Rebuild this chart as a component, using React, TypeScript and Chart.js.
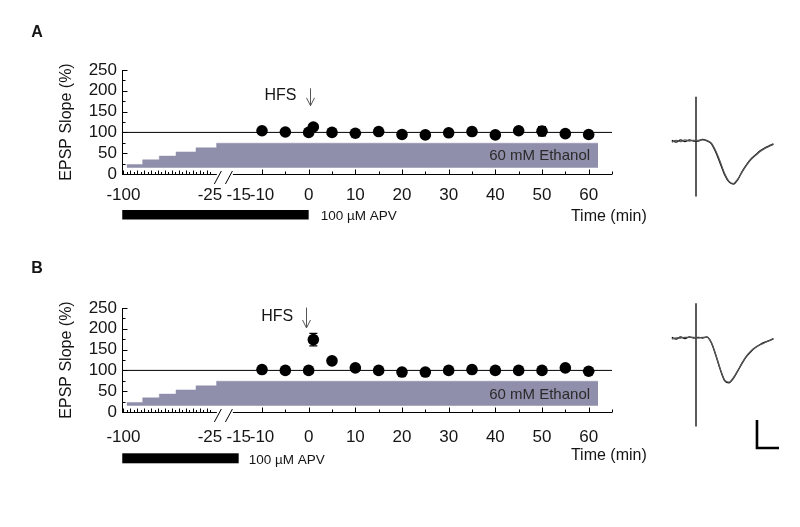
import React, { useEffect, useRef } from "react";
import { Chart, registerables } from "chart.js";

Chart.register(...registerables);

const FONT = '"Liberation Sans", Arial, Helvetica, sans-serif';
const TEXT = "#151515";
const ETHANOL_FILL = "#8f8fab";

// ---------------- data: EPSP slope time course ----------------
const sampleTimes = [-10, -5, 0, 1, 5, 10, 15, 20, 25, 30, 35, 40, 45, 50, 55, 60];
const slopeA = [104, 101, 100, 113, 100, 98, 102, 95, 94, 99, 102, 94, 104, 103, 97, 95];
const semA = [4, 3, 3, 5, 3, 3, 3, 3, 3, 3, 3, 3, 4, 11, 3, 3];
const slopeB = [102, 100, 100, 174, 123, 106, 100, 96, 96, 100, 102, 100, 100, 100, 106, 98];
const semB = [4, 3, 3, 15, 5, 4, 3, 3, 3, 3, 3, 3, 3, 3, 4, 3];

// ethanol ramp (staircase) drawn as a grey band
const ethanolStepTimes = [-97.2, -83.3, -68.9, -54.4, -37.1, -22.7, 62];
const ethanolStepLevels = [23, 34, 43, 53, 63, 74, 74];
const ethanolBaseLevel = 15;
const baselineLevel = 100;

// drug / stimulation timing (min)
const apvA = [-101, 0];
const apvB = [-101, -15];
const hfsTimeA = 0.3;
const hfsTimeB = -0.5;

// axis ticks
const xTickLabels = [-100, -25, -15, -10, 0, 10, 20, 30, 40, 50, 60];
const xMajorTicks = [-10, 0, 10, 20, 30, 40, 50, 60];
const xMinorTicks = [-5, 5, 15, 25, 35, 45, 55, 65];
const xPreBreakTicks = [
  -100, -97, -94, -91, -88, -85, -82, -79, -76, -73, -70, -67, -64,
  -61, -58, -55, -52, -49, -46, -43, -40, -37, -34, -31, -28, -25,
];
const yMajorTicks = [0, 50, 100, 150, 200, 250];
const yMinorTicks = [25, 75, 125, 175, 225];

// ---------------- data: representative fEPSP traces (ms, mV) ----------------
const traceTimes = [
  -5.5, -4.5, -3.5, -2.5, -1.5, -0.5, 0.5, 1.5, 2.5, 3.5, 4.5, 5.5,
  6.5, 7.5, 8.5, 9.5, 10.5, 11.5, 12.5, 13.5, 14.5, 15.5, 16.5, 17.6,
];
const traceA1 = [
  -0.02, 0.01, -0.01, 0.02, 0.0, 0.01, 0.01, 0.02, 0.01, -0.04, -0.18, -0.37,
  -0.58, -0.72, -0.76, -0.68, -0.55, -0.43, -0.33, -0.26, -0.19, -0.14, -0.1, -0.06,
];
const traceA2 = [
  0.01, -0.02, 0.02, -0.01, 0.02, 0.0, 0.0, 0.03, 0.0, -0.05, -0.2, -0.4,
  -0.6, -0.73, -0.77, -0.69, -0.54, -0.42, -0.32, -0.25, -0.18, -0.13, -0.09, -0.05,
];
const traceB1 = [
  -0.02, 0.0, 0.0, 0.01, 0.01, 0.01, 0.0, 0.01, 0.01, -0.08, -0.3, -0.55,
  -0.75, -0.79, -0.71, -0.58, -0.44, -0.32, -0.23, -0.17, -0.125, -0.09, -0.05, -0.02,
];
const traceB2 = [
  0.01, -0.02, 0.02, -0.01, 0.02, 0.0, 0.01, 0.0, 0.02, -0.09, -0.31, -0.56,
  -0.76, -0.8, -0.72, -0.59, -0.45, -0.33, -0.24, -0.17, -0.12, -0.08, -0.05, -0.01,
];
const artifactA = [0.79, -0.99];
const artifactB = [0.62, -1.58];
const scaleBarMs = 5;
const scaleBarMv = 0.5;

// ---------------- broken time axis ----------------
const BREAK_FROM = -25;
const BREAK_TO = -15;
const AXIS_AT_BREAK_FROM = -21.15;
const PRE_BREAK_RATE = 0.2473;
const X_AXIS_MIN = -40;
const X_AXIS_MAX = 65;
const axisGap = [-22.6, -17];

function toAxis(t: number): number {
  if (t >= BREAK_TO) return t;
  if (t <= BREAK_FROM) return AXIS_AT_BREAK_FROM + (t - BREAK_FROM) * PRE_BREAK_RATE;
  return (
    AXIS_AT_BREAK_FROM +
    ((t - BREAK_FROM) / (BREAK_TO - BREAK_FROM)) * (BREAK_TO - AXIS_AT_BREAK_FROM)
  );
}

type PanelLayout = {
  label: string;
  top: number;
  labelY: number;
  tickPad: number;
  hfsTextRight: number;
  hfsTextValue: number;
  arrowFrom: number;
  arrowTo: number;
  apvBarDy: number;
  apvBarH: number;
  apvTextGap: number;
  apvTextDy: number;
  timeTextDy: number;
  ethanolTextDy: number;
};

const layoutA: PanelLayout = {
  label: "A", top: 0, labelY: 33, tickPad: 11,
  hfsTextRight: -2.6, hfsTextValue: 188, arrowFrom: 206, arrowTo: 164,
  apvBarDy: 36, apvBarH: 9.5, apvTextGap: 12, apvTextDy: 42.7,
  timeTextDy: 42.7, ethanolTextDy: -18,
};
const layoutB: PanelLayout = {
  label: "B", top: 238, labelY: 31, tickPad: 15,
  hfsTextRight: -3.3, hfsTextValue: 229, arrowFrom: 251, arrowTo: 202,
  apvBarDy: 41.3, apvBarH: 10, apvTextGap: 10, apvTextDy: 48,
  timeTextDy: 43.7, ethanolTextDy: -17,
};

type PanelData = {
  values: number[];
  sem: number[];
  apv: number[];
  hfs: number;
};

function decorPlugin(d: PanelData, L: PanelLayout) {
  return {
    id: "decor" + L.label,
    afterDatasetsDraw(chart: any) {
      const { ctx, scales } = chart;
      const x = scales.x;
      const y = scales.y;
      ctx.save();
      ctx.strokeStyle = "#000";
      ctx.lineWidth = 1.4;
      sampleTimes.forEach((t, i) => {
        const px = x.getPixelForValue(toAxis(t));
        const hi = y.getPixelForValue(d.values[i] + d.sem[i]);
        const lo = y.getPixelForValue(d.values[i] - d.sem[i]);
        ctx.beginPath();
        ctx.moveTo(px, hi);
        ctx.lineTo(px, lo);
        ctx.moveTo(px - 4, hi);
        ctx.lineTo(px + 4, hi);
        ctx.moveTo(px - 4, lo);
        ctx.lineTo(px + 4, lo);
        ctx.stroke();
      });
      ctx.restore();
    },
    afterDraw(chart: any) {
      const { ctx, chartArea, scales } = chart;
      const x = scales.x;
      const y = scales.y;
      const X = (t: number) => x.getPixelForValue(toAxis(t));
      const Y = (v: number) => y.getPixelForValue(v);
      const y0 = Math.round(Y(0)) + 0.5;
      ctx.save();
      ctx.strokeStyle = "#000";
      ctx.lineWidth = 1;
      // x axis line with a break
      ctx.beginPath();
      ctx.moveTo(chartArea.left, y0);
      ctx.lineTo(X(axisGap[0]), y0);
      ctx.moveTo(X(axisGap[1]), y0);
      ctx.lineTo(chartArea.right, y0);
      ctx.stroke();
      // inward x ticks
      const tick = (t: number, len: number) => {
        const px = Math.round(X(t)) + 0.5;
        ctx.moveTo(px, y0);
        ctx.lineTo(px, y0 - len);
      };
      ctx.beginPath();
      xMajorTicks.forEach((t) => tick(t, 5));
      xMinorTicks.forEach((t) => tick(t, 3));
      xPreBreakTicks.forEach((t, i) => tick(t, i % 2 === 0 ? 4 : 2.5));
      ctx.stroke();
      // inward y ticks
      const xl = Math.round(chartArea.left) + 0.5;
      ctx.beginPath();
      yMajorTicks.forEach((v) => {
        const py = Math.round(Y(v)) + 0.5;
        ctx.moveTo(xl, py);
        ctx.lineTo(xl + 5, py);
      });
      yMinorTicks.forEach((v) => {
        const py = Math.round(Y(v)) + 0.5;
        ctx.moveTo(xl, py);
        ctx.lineTo(xl + 3, py);
      });
      ctx.stroke();
      // break marks
      const g0 = X(axisGap[0]);
      const g1 = X(axisGap[1]);
      ctx.beginPath();
      [g0 + 1, g1 - 4].forEach((cx) => {
        ctx.moveTo(cx - 3.5, y0 + 9.5);
        ctx.lineTo(cx + 3.5, y0 - 3.5);
      });
      ctx.stroke();
      // HFS arrow
      const ax = Math.round(X(d.hfs)) + 0.5;
      const tipY = Y(L.arrowTo);
      ctx.strokeStyle = "#555";
      ctx.beginPath();
      ctx.moveTo(ax, Y(L.arrowFrom));
      ctx.lineTo(ax, tipY);
      ctx.moveTo(ax - 4, tipY - 8);
      ctx.lineTo(ax, tipY);
      ctx.lineTo(ax + 4, tipY - 8);
      ctx.stroke();
      // texts
      ctx.fillStyle = TEXT;
      ctx.textBaseline = "middle";
      ctx.font = `16px ${FONT}`;
      ctx.textAlign = "right";
      ctx.fillText("HFS", X(L.hfsTextRight), Y(L.hfsTextValue));
      ctx.font = `15px ${FONT}`;
      ctx.fillStyle = "#2a2a2a";
      ctx.fillText("60 mM Ethanol", X(60.3), chartArea.bottom + L.ethanolTextDy);
      ctx.fillStyle = TEXT;
      ctx.font = `16px ${FONT}`;
      ctx.textAlign = "left";
      ctx.fillText("Time (min)", X(56.2), chartArea.bottom + L.timeTextDy);
      // APV bar
      ctx.fillStyle = "#000";
      const bx0 = X(d.apv[0]);
      const bx1 = X(d.apv[1]);
      ctx.fillRect(bx0, chartArea.bottom + L.apvBarDy, bx1 - bx0, L.apvBarH);
      ctx.fillStyle = TEXT;
      ctx.font = `13.5px ${FONT}`;
      ctx.fillText("100 µM APV", bx1 + L.apvTextGap, chartArea.bottom + L.apvTextDy);
      // panel label
      ctx.font = `bold 16px ${FONT}`;
      ctx.textAlign = "center";
      ctx.fillText(L.label, 37, L.labelY);
      ctx.restore();
    },
  };
}

function mainConfig(d: PanelData, L: PanelLayout): any {
  const points = sampleTimes.map((t, i) => ({ x: toAxis(t), y: d.values[i] }));
  const steps = ethanolStepTimes.map((t, i) => ({ x: toAxis(t), y: ethanolStepLevels[i] }));
  return {
    type: "scatter",
    data: {
      datasets: [
        {
          type: "line",
          data: steps,
          stepped: "before",
          fill: { value: ethanolBaseLevel },
          backgroundColor: ETHANOL_FILL,
          borderColor: ETHANOL_FILL,
          borderWidth: 0.5,
          pointRadius: 0,
          order: 3,
        },
        {
          type: "line",
          data: [
            { x: X_AXIS_MIN, y: baselineLevel },
            { x: X_AXIS_MAX, y: baselineLevel },
          ],
          borderColor: "#000",
          borderWidth: 1,
          pointRadius: 0,
          fill: false,
          order: 2,
        },
        {
          type: "scatter",
          data: points,
          pointRadius: 5.8,
          pointHoverRadius: 5.8,
          backgroundColor: "#000",
          borderColor: "#000",
          borderWidth: 0,
          order: 1,
        },
      ],
    },
    options: {
      animation: false,
      responsive: false,
      devicePixelRatio: 1,
      events: [],
      layout: { padding: { left: 0, right: 48, top: 70, bottom: 6 } },
      plugins: { legend: { display: false }, tooltip: { enabled: false } },
      scales: {
        x: {
          type: "linear",
          min: X_AXIS_MIN,
          max: X_AXIS_MAX,
          afterBuildTicks: (s: any) => {
            s.ticks = xTickLabels.map((t) => ({ value: toAxis(t) }));
          },
          ticks: {
            autoSkip: false,
            maxRotation: 0,
            padding: L.tickPad,
            color: TEXT,
            font: { family: FONT, size: 17 },
            callback: (_v: any, i: number) => String(xTickLabels[i]),
          },
          grid: { display: false, drawTicks: false },
          border: { display: false },
          afterFit: (s: any) => {
            s.height = 60;
          },
        },
        y: {
          min: 0,
          max: 250,
          afterBuildTicks: (s: any) => {
            s.ticks = yMajorTicks.map((v) => ({ value: v }));
          },
          ticks: {
            autoSkip: false,
            padding: 5,
            color: TEXT,
            font: { family: FONT, size: 17 },
          },
          grid: { display: false, drawTicks: false },
          border: { display: true, color: "#000", width: 1 },
          title: {
            display: true,
            text: "EPSP Slope (%)",
            color: TEXT,
            font: { family: FONT, size: 16 },
            padding: { top: 57, bottom: 0 },
          },
          afterFit: (s: any) => {
            s.width = 122;
          },
        },
      },
    },
    plugins: [decorPlugin(d, L)],
  };
}

type TraceSpec = {
  traces: number[][];
  artifact: number[];
  yMin: number;
  yMax: number;
  scaleBar?: { x: number; y: number };
};

const TRACE_X_MIN = -8.182;
const TRACE_X_MAX = 21.364;

function traceConfig(spec: TraceSpec): any {
  const colors = ["#555", "#111"];
  const datasets: any[] = spec.traces.map((vals, k) => ({
    type: "line",
    data: traceTimes.map((t, i) => ({ x: t, y: vals[i] })),
    borderColor: colors[k],
    borderWidth: 1.3,
    pointRadius: 0,
    cubicInterpolationMode: "monotone",
    fill: false,
  }));
  datasets.push({
    type: "line",
    data: [
      { x: 0, y: spec.artifact[0] },
      { x: 0, y: spec.artifact[1] },
    ],
    borderColor: "#333",
    borderWidth: 1.6,
    pointRadius: 0,
    fill: false,
  });
  if (spec.scaleBar) {
    const sb = spec.scaleBar;
    datasets.push({
      type: "line",
      data: [
        { x: sb.x, y: sb.y + scaleBarMv },
        { x: sb.x, y: sb.y },
        { x: sb.x + scaleBarMs, y: sb.y },
      ],
      borderColor: "#000",
      borderWidth: 2.6,
      pointRadius: 0,
      fill: false,
    });
  }
  return {
    type: "line",
    data: { datasets },
    options: {
      animation: false,
      responsive: false,
      devicePixelRatio: 1,
      events: [],
      layout: { padding: 0 },
      plugins: { legend: { display: false }, tooltip: { enabled: false } },
      scales: {
        x: { type: "linear", min: TRACE_X_MIN, max: TRACE_X_MAX, display: false },
        y: { type: "linear", min: spec.yMin, max: spec.yMax, display: false },
      },
    },
  };
}

function ChartCanvas(props: {
  config: () => any;
  left: number;
  top: number;
  width: number;
  height: number;
}) {
  const ref = useRef<HTMLCanvasElement | null>(null);
  useEffect(() => {
    if (!ref.current) return;
    const chart = new Chart(ref.current, props.config());
    return () => chart.destroy();
  }, []);
  return (
    <canvas
      ref={ref}
      width={props.width}
      height={props.height}
      style={{
        position: "absolute",
        left: props.left,
        top: props.top,
        width: props.width,
        height: props.height,
      }}
    />
  );
}

export default function App() {
  const dataA: PanelData = { values: slopeA, sem: semA, apv: apvA, hfs: hfsTimeA };
  const dataB: PanelData = { values: slopeB, sem: semB, apv: apvB, hfs: hfsTimeB };
  return (
    <div
      style={{
        position: "absolute",
        left: 0,
        top: 0,
        width: 800,
        height: 527,
        background: "#fff",
        overflow: "hidden",
      }}
    >
      <ChartCanvas config={() => mainConfig(dataA, layoutA)} left={0} top={layoutA.top} width={660} height={240} />
      <ChartCanvas config={() => mainConfig(dataB, layoutB)} left={0} top={layoutB.top} width={660} height={240} />
      <ChartCanvas
        config={() =>
          traceConfig({ traces: [traceA1, traceA2], artifact: artifactA, yMin: -1.232, yMax: 0.911 })
        }
        left={660}
        top={90}
        width={130}
        height={120}
      />
      <ChartCanvas
        config={() =>
          traceConfig({
            traces: [traceB1, traceB2],
            artifact: artifactB,
            yMin: -2.179,
            yMax: 0.857,
            scaleBar: { x: 13.86, y: -1.964 },
          })
        }
        left={660}
        top={290}
        width={130}
        height={170}
      />
    </div>
  );
}
